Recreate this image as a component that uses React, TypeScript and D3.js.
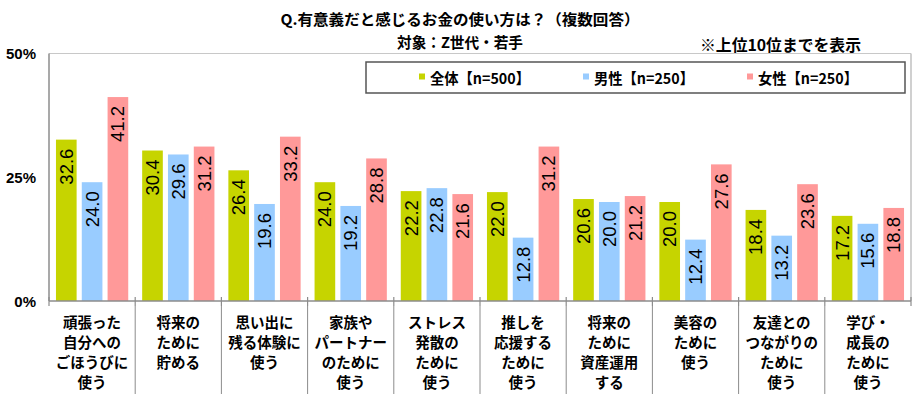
import React from "react";
import * as d3 from "d3";

const categories: string[] = [
  "頑張った\n自分への\nごほうびに\n使う",
  "将来の\nために\n貯める",
  "思い出に\n残る体験に\n使う",
  "家族や\nパートナー\nのために\n使う",
  "ストレス\n発散の\nために\n使う",
  "推しを\n応援する\nために\n使う",
  "将来の\nために\n資産運用\nする",
  "美容の\nために\n使う",
  "友達との\nつながりの\nために\n使う",
  "学び・\n成長の\nために\n使う",
];

const seriesNames: string[] = ["全体【n=500】", "男性【n=250】", "女性【n=250】"];
const totalValues: number[] = [32.6, 30.4, 26.4, 24.0, 22.2, 22.0, 20.6, 20.0, 18.4, 17.2];
const maleValues: number[] = [24.0, 29.6, 19.6, 19.2, 22.8, 12.8, 20.0, 12.4, 13.2, 15.6];
const femaleValues: number[] = [41.2, 31.2, 33.2, 28.8, 21.6, 31.2, 21.2, 27.6, 23.6, 18.8];
const yTicks: number[] = [0, 25, 50];
const colors: string[] = ["#c6d400", "#99ccff", "#ff9999"];

const W = 920;
const H = 397;
const PL = 49;
const PR = 911;
const PT = 53.5;
const PB = 301;

const CJK = "'Noto Sans CJK JP', 'Noto Sans', sans-serif";
const LAT = "'Liberation Sans', Arial, sans-serif";

export default function App() {
  const series = [totalValues, maleValues, femaleValues];
  const x0 = d3.scaleBand<number>().domain(d3.range(categories.length)).range([PL, PR]).padding(0);
  const x1 = d3
    .scaleBand<number>()
    .domain(d3.range(series.length))
    .range([0, x0.bandwidth()])
    .paddingInner(0.2)
    .paddingOuter(0.27);
  const y = d3.scaleLinear().domain([0, 50]).range([PB, PT]);

  const legendX = [419, 583, 747];

  return (
    <div style={{ position: "fixed", left: 0, top: 0 }}>
      <svg width={W} height={H} style={{ display: "block", background: "#fff" }}>
        {/* titles */}
        <text x={460} y={18.5} textAnchor="middle" dominantBaseline="central" fontFamily={CJK} fontWeight="bold" fontSize={15} textLength={359} lengthAdjust="spacingAndGlyphs">
          Q.有意義だと感じるお金の使い方は？（複数回答）
        </text>
        <text x={460} y={41} textAnchor="middle" dominantBaseline="central" fontFamily={CJK} fontWeight="bold" fontSize={15} textLength={126} lengthAdjust="spacingAndGlyphs">
          対象：Z世代・若手
        </text>
        <text x={700} y={43.5} dominantBaseline="central" fontFamily={CJK} fontWeight="bold" fontSize={16} textLength={161} lengthAdjust="spacingAndGlyphs">
          ※上位10位までを表示
        </text>

        {/* plot frame */}
        <line x1={PL} x2={PR} y1={PT} y2={PT} stroke="#c8c8c8" strokeWidth={1.2} />
        <line x1={PR} x2={PR} y1={PT} y2={PB} stroke="#c0c0c0" strokeWidth={1.5} />

        {/* y axis labels */}
        {yTicks.map((t) => (
          <text key={t} x={36} y={y(t)} textAnchor="end" dominantBaseline="central" fontFamily={LAT} fontWeight="bold" fontSize={15}>
            {t}%
          </text>
        ))}

        {/* bars */}
        {categories.map((c, i) =>
          series.map((vals, s) => {
            const v = vals[i];
            const bx = (x0(i) as number) + (x1(s) as number);
            const bw = x1.bandwidth();
            const top = y(v);
            const cx = bx + bw / 2;
            return (
              <g key={`${i}-${s}`}>
                <rect x={bx} y={top} width={bw} height={PB - top} fill={colors[s]} />
                <text
                  transform={`translate(${cx},${top + 9}) rotate(-90)`}
                  textAnchor="end"
                  dominantBaseline="central"
                  fontFamily={LAT}
                  fontSize={18.5}
                  fill="#000"
                >
                  {v.toFixed(1)}
                </text>
              </g>
            );
          })
        )}

        {/* axes */}
        <line x1={PL} x2={PL} y1={PT} y2={PB} stroke="#8c8c8c" strokeWidth={1.5} />
        <line x1={PL} x2={PR} y1={PB} y2={PB} stroke="#8c8c8c" strokeWidth={1.5} />
        {d3.range(categories.length + 1).map((i) => {
          const tx = PL + i * x0.bandwidth();
          return (
            <g key={`t${i}`}>
              <line x1={tx} x2={tx} y1={PB - 4} y2={PB + 5} stroke="#8c8c8c" strokeWidth={1.2} />
              {i > 0 && i < categories.length && (
                <line x1={tx} x2={tx} y1={PB + 5} y2={394} stroke="#8c8c8c" strokeWidth={1} />
              )}
            </g>
          );
        })}

        {/* category labels */}
        {categories.map((c, i) => {
          const cx = (x0(i) as number) + x0.bandwidth() / 2;
          return (
            <text key={`c${i}`} textAnchor="middle" fontFamily={CJK} fontWeight="bold" fontSize={14.5}>
              {c.split("\n").map((line, k) => (
                <tspan key={k} x={cx} y={321.5 + k * 20} dominantBaseline="central">
                  {line}
                </tspan>
              ))}
            </text>
          );
        })}

        {/* legend */}
        <rect x={366} y={62} width={539} height={31} fill="#fff" stroke="#555" strokeWidth={1.5} />
        {seriesNames.map((n, s) => (
          <g key={n}>
            <rect x={legendX[s]} y={73.5} width={6} height={6} fill={colors[s]} />
            <text x={legendX[s] + 11} y={77} dominantBaseline="central" fontFamily={CJK} fontWeight="bold" fontSize={15} textLength={100} lengthAdjust="spacingAndGlyphs">
              {n}
            </text>
          </g>
        ))}
      </svg>
    </div>
  );
}
